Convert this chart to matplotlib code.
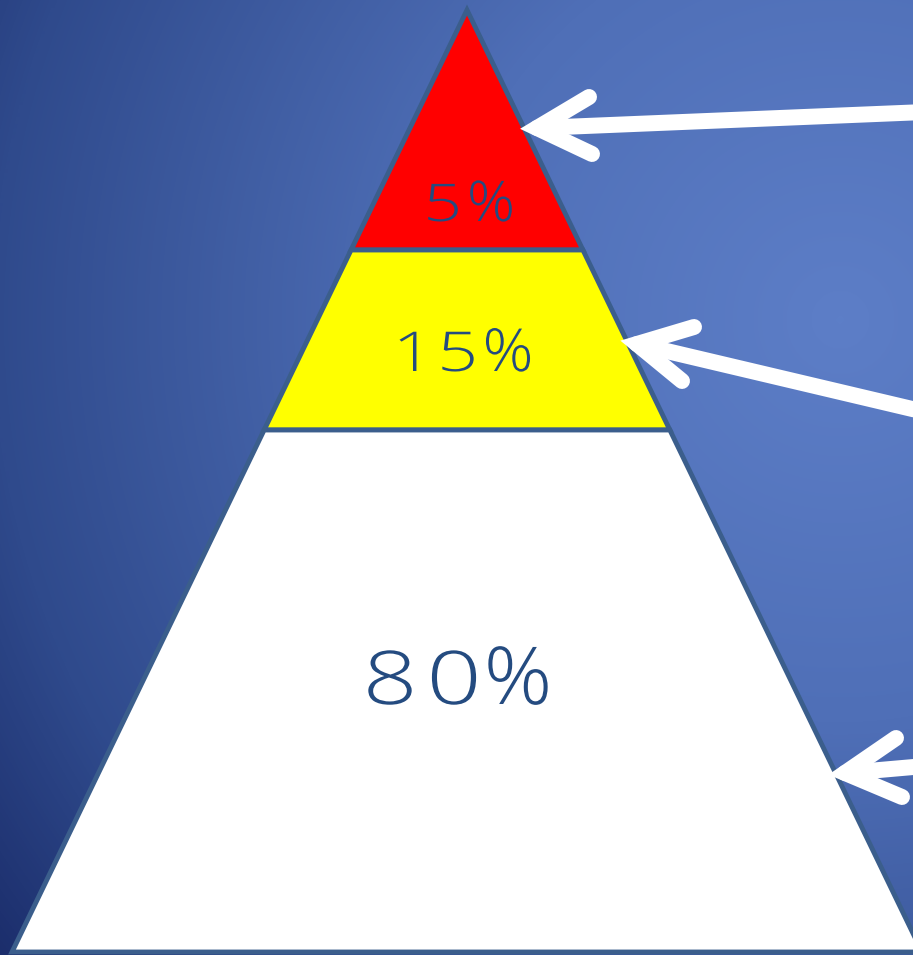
#!/usr/bin/env python3
"""Three-layer percentage pyramid on a blue gradient, with pointer arrows."""

import numpy as np
import matplotlib
matplotlib.use("Agg")
import matplotlib.pyplot as plt
from matplotlib.colors import LinearSegmentedColormap
from matplotlib.font_manager import FontProperties
from matplotlib.patches import Polygon, PathPatch
from matplotlib.textpath import TextPath
from matplotlib.transforms import Affine2D

# Layer data, top to bottom
layer_labels = ["5%", "15%", "80%"]
layer_colors = ["#ff0000", "#ffff00", "#ffffff"]

W, H = 913, 955

# Layout (pixels)
apex = (467, 10)
base_y = 952
half_base = 455
cuts = [10, 250, 430, 952]          # y of layer boundaries
text_base = [221, 371, 704]         # baseline of each label
text_x = [467, 458, 454]
text_size = [52, 55, 74]
char_step = [48, 50, 64]
digit_scale = (1.3, 1.0)
pct_scale = (1.15, 1.08)
edge_color = "#3b5e8c"
text_color = "#244b80"
font = FontProperties(family="Open Sans", weight="light")

# Arrows: (tail, tip, head end 1, head end 2)
arrows = [
    ((925, 112), (537, 128), (589, 97), (592, 154)),
    ((925, 412), (637, 344), (694, 327), (682, 381)),
    ((925, 766), (845, 773), (896, 738), (902, 797)),
]


def half_width(y):
    return half_base * (y - apex[1]) / (base_y - apex[1])


def draw_spaced(ax, s, cx, base, step, size):
    n = len(s)
    for i, ch in enumerate(s):
        x = cx + (i - (n - 1) / 2) * step
        sx, sy = pct_scale if ch == "%" else digit_scale
        tp = TextPath((0, 0), ch, size=size, prop=font)
        ext = tp.get_extents()
        mid = (ext.x0 + ext.x1) / 2
        tr = Affine2D().translate(-mid, 0).scale(sx, -sy).translate(x, base)
        ax.add_patch(PathPatch(tr.transform_path(tp), facecolor=text_color,
                               edgecolor="none", zorder=4))


fig = plt.figure(figsize=(W / 100, H / 100), dpi=100)
ax = fig.add_axes([0, 0, 1, 1])
ax.set_xlim(0, W)
ax.set_ylim(H, 0)
ax.axis("off")

# Radial background
yy, xx = np.mgrid[0:H, 0:W]
d = np.hypot(xx - 840, yy - 320) / 1060
bg = LinearSegmentedColormap.from_list("bg", [
    (0.0, "#5d7ec7"), (0.38, "#4f6fb7"), (0.8, "#2f4a8c"), (1.0, "#1b2d6b")])
ax.imshow(bg(np.clip(d, 0, 1)), extent=[0, W, H, 0], zorder=0)

# Pyramid layers
for i, (lab, col) in enumerate(zip(layer_labels, layer_colors)):
    y0, y1 = cuts[i], cuts[i + 1]
    w0, w1 = half_width(y0), half_width(y1)
    pts = [(apex[0] - w0, y0), (apex[0] + w0, y0),
           (apex[0] + w1, y1), (apex[0] - w1, y1)]
    ax.add_patch(Polygon(pts, closed=True, facecolor=col,
                         edgecolor=edge_color, lw=3.5, joinstyle="miter",
                         zorder=2))
    draw_spaced(ax, lab, text_x[i], text_base[i], char_step[i], text_size[i])

# Arrows
for tail, tip, h1, h2 in arrows:
    kw = dict(color="white", lw=11.5, solid_capstyle="round", zorder=3)
    ax.plot([tail[0], tip[0]], [tail[1], tip[1]], **kw)
    ax.plot([h1[0], tip[0], h2[0]], [h1[1], tip[1], h2[1]],
            solid_joinstyle="miter", **kw)

fig.savefig("out.png", dpi=100)
